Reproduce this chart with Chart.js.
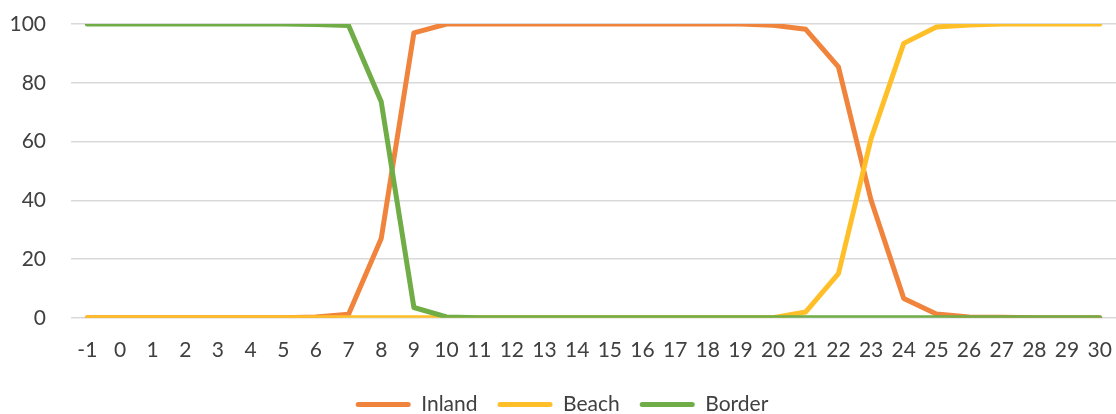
<!DOCTYPE html>
<html>
<head>
<meta charset="utf-8">
<script src="https://cdn.jsdelivr.net/npm/chart.js@4/dist/chart.umd.min.js"></script>
<style>
  html, body { margin: 0; padding: 0; background: #ffffff; overflow: hidden; }
  #wrap { width: 1116px; height: 414px; position: relative; }
  #c { display: block; }
</style>
</head>
<body>
<div id="wrap"><canvas id="c"></canvas></div>
<script>
// Day index along the x axis
const categories = ['-1','0','1','2','3','4','5','6','7','8','9','10','11','12','13','14','15','16','17','18','19','20','21','22','23','24','25','26','27','28','29','30'];

// Share (%) per zone
const inland = [0,0,0,0,0,0,0,0.3,1.2,27,97,100,100,100,100,100,100,100,100,100,100,99.6,98.2,85.4,40,6.6,1.3,0.3,0.2,0,0,0];
const beach  = [0,0,0,0,0,0,0,0,0,0,0,0,0,0,0,0,0,0,0,0,0,0,2,15,61,93.4,99,99.7,100,100,100,100];
const border = [100,100,100,100,100,100,100,99.8,99.5,73.5,3.5,0.3,0,0,0,0,0,0,0,0,0,0,0,0,0,0,0,0,0,0,0,0];

const yTicks = [0,20,40,60,80,100];

const COLORS = { inland: '#F0843C', beach: '#FFBF28', border: '#70AD47' };
const FONT = 'Lato, "Open Sans", sans-serif';

// later series are painted on top (lower "order" draws last)
function series(label, data, color, order) {
  return {
    label, data, order,
    borderColor: color, backgroundColor: color,
    borderWidth: 5, pointRadius: 0, pointHoverRadius: 0, tension: 0,
    borderCapStyle: 'round', borderJoinStyle: 'round'
  };
}

new Chart(document.getElementById('c'), {
  type: 'line',
  data: {
    labels: categories,
    datasets: [
      series('Inland', inland, COLORS.inland, 3),
      series('Beach', beach, COLORS.beach, 2),
      series('Border', border, COLORS.border, 1)
    ]
  },
  options: {
    responsive: true,
    maintainAspectRatio: false,
    animation: false,
    layout: { autoPadding: false, padding: { left: 8, right: 0, top: 0, bottom: -11 } },
    plugins: {
      tooltip: { enabled: false },
      legend: {
        position: 'bottom',
        labels: {
          color: '#404040',
          font: { family: FONT, size: 21 },
          boxWidth: 55,
          boxHeight: 5,
          padding: 20,
          sort: (a, b) => a.datasetIndex - b.datasetIndex,
          generateLabels(chart) {
            return chart.data.datasets.map((ds, i) => ({
              text: ds.label,
              fillStyle: ds.borderColor,
              strokeStyle: ds.borderColor,
              lineWidth: 0,
              borderRadius: 2.5,
              fontColor: '#404040',
              hidden: false,
              datasetIndex: i
            }));
          }
        }
      }
    },
    scales: {
      x: {
        offset: true,
        grid: { display: false, drawTicks: false },
        border: { display: false },
        afterFit(axis) {
          // plot runs edge to edge; no label overhang reserve
          axis.paddingLeft = 0;
          axis.paddingRight = 0;
          axis.height -= 9;
        },
        ticks: {
          color: '#404040',
          font: { family: FONT, size: 21 },
          padding: 20,
          maxRotation: 0,
          autoSkip: false
        }
      },
      y: {
        min: 0, max: 100,
        afterBuildTicks(axis) { axis.ticks = yTicks.map(v => ({ value: v })); },
        afterFit(axis) {
          axis.width = 63;
          axis.paddingTop = 24;
          axis.paddingBottom = 0;
        },
        grid: { color: '#D9D9D9', lineWidth: 1.5, drawTicks: false },
        border: { display: false },
        ticks: {
          color: '#404040',
          font: { family: FONT, size: 21 },
          padding: 25
        }
      }
    }
  }
});
</script>
</body>
</html>
